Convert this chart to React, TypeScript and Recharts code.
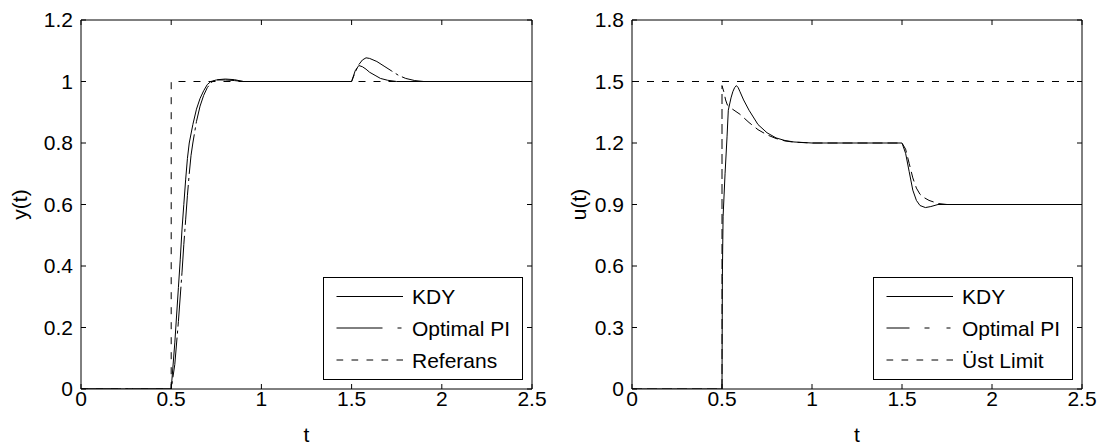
import React from "react";
import { Line, LineChart, ReferenceLine, XAxis, YAxis } from "recharts";

const FONT = '"Liberation Sans", Arial, Helvetica, sans-serif';
const FONT_SIZE = 21;

// shared time axis
const timeTicks = [0, 0.5, 1, 1.5, 2, 2.5];
const outputTicks = [0, 0.2, 0.4, 0.6, 0.8, 1, 1.2];
const controlTicks = [0, 0.3, 0.6, 0.9, 1.2, 1.5, 1.8];

// y(t) – reference step
const refT = [0, 0.5, 0.5, 2.5];
const refY = [0, 0, 1, 1];

// y(t) – KDY
const yKdyT = [0, 0.5, 0.52, 0.54, 0.55, 0.56, 0.57, 0.58, 0.59, 0.6, 0.62, 0.64, 0.66, 0.68, 0.7, 0.72, 0.75, 0.8, 0.85, 0.9, 1.5, 1.52, 1.54, 1.56, 1.58, 1.6, 1.63, 1.66, 1.7, 1.75, 2.5];
const yKdyV = [0, 0, 0.15, 0.33, 0.42, 0.52, 0.6, 0.68, 0.75, 0.8, 0.86, 0.91, 0.945, 0.97, 0.99, 1.0, 1.005, 1.005, 1.003, 1.0, 1.0, 1.035, 1.052, 1.048, 1.04, 1.03, 1.02, 1.01, 1.004, 1.0, 1.0];

// y(t) – Optimal PI
const yPiT = [0, 0.5, 0.52, 0.54, 0.56, 0.57, 0.58, 0.59, 0.6, 0.61, 0.62, 0.64, 0.66, 0.68, 0.7, 0.72, 0.74, 0.8, 0.85, 0.9, 1.5, 1.52, 1.54, 1.56, 1.58, 1.6, 1.64, 1.68, 1.72, 1.76, 1.8, 1.85, 1.9, 2.5];
const yPiV = [0, 0, 0.08, 0.22, 0.38, 0.47, 0.55, 0.63, 0.7, 0.76, 0.8, 0.87, 0.92, 0.955, 0.98, 0.995, 1.005, 1.008, 1.006, 1.0, 1.0, 1.03, 1.055, 1.07, 1.077, 1.075, 1.065, 1.05, 1.035, 1.02, 1.01, 1.003, 1.0, 1.0];

// u(t) – KDY
const uKdyT = [0, 0.5, 0.502, 0.506, 0.517, 0.528, 0.535, 0.55, 0.56, 0.57, 0.58, 0.59, 0.6, 0.62, 0.65, 0.7, 0.75, 0.8, 0.85, 0.9, 1.0, 1.5, 1.52, 1.54, 1.56, 1.58, 1.6, 1.63, 1.66, 1.7, 2.5];
const uKdyV = [0, 0, 0.55, 0.84, 1.05, 1.23, 1.36, 1.42, 1.45, 1.47, 1.48, 1.47, 1.45, 1.41, 1.36, 1.29, 1.25, 1.225, 1.212, 1.205, 1.2, 1.2, 1.15, 1.06, 0.97, 0.92, 0.895, 0.885, 0.89, 0.9, 0.9];

// u(t) – Optimal PI
const uPiT = [0, 0.5, 0.5, 0.51, 0.52, 0.53, 0.55, 0.6, 0.65, 0.7, 0.75, 0.8, 0.85, 0.9, 1.0, 1.5, 1.52, 1.54, 1.56, 1.58, 1.6, 1.62, 1.65, 1.7, 1.75, 2.5];
const uPiV = [0, 0, 1.48, 1.45, 1.41, 1.385, 1.37, 1.34, 1.3, 1.265, 1.24, 1.222, 1.21, 1.204, 1.2, 1.2, 1.17, 1.1, 1.03, 0.98, 0.95, 0.935, 0.92, 0.905, 0.9, 0.9];

// u(t) – upper limit
const limitT = [0, 2.5];
const limitU = [1.5, 1.5];

const zip = (ts: number[], vs: number[]) => ts.map((t, i) => ({ t, v: vs[i] }));

const PLOT_TOP = 20;
const PLOT_BOTTOM = 389;
const TICK_LEN = 5;

function TimeTick(props: any) {
  const { x, payload } = props;
  return (
    <g>
      <line x1={x} x2={x} y1={PLOT_BOTTOM} y2={PLOT_BOTTOM - TICK_LEN} stroke="#000" />
      <line x1={x} x2={x} y1={PLOT_TOP} y2={PLOT_TOP + TICK_LEN} stroke="#000" />
      <text x={x} y={PLOT_BOTTOM + 17} textAnchor="middle" fontSize={FONT_SIZE} fontFamily={FONT} fill="#000">
        {payload.value}
      </text>
    </g>
  );
}

function ValueTick(props: any) {
  const { y, payload, left, right } = props;
  return (
    <g>
      <line x1={left} x2={left + TICK_LEN} y1={y} y2={y} stroke="#000" />
      <line x1={right - TICK_LEN} x2={right} y1={y} y2={y} stroke="#000" />
      <text x={left - 8} y={y} dy="0.35em" textAnchor="end" fontSize={FONT_SIZE} fontFamily={FONT} fill="#000">
        {payload.value}
      </text>
    </g>
  );
}

// axis title at a fixed spot; own prop names so the axis can't overwrite them
function AxisTitle({ posX, posY, text, vertical }: { posX: number; posY: number; text: string; vertical?: boolean }) {
  return (
    <text
      x={posX}
      y={posY}
      textAnchor="middle"
      fontSize={FONT_SIZE}
      fontFamily={FONT}
      fill="#000"
      transform={vertical ? `rotate(-90 ${posX} ${posY})` : undefined}
    >
      {text}
    </text>
  );
}

interface SeriesDef {
  name: string;
  data: { t: number; v: number }[];
  dash?: string;
}

interface PanelProps {
  width: number;
  axisWidth: number;
  marginRight: number;
  yMax: number;
  yTicks: number[];
  yTitle: string;
  yTitleX: number;
  series: SeriesDef[];
}

function Panel({ width, axisWidth, marginRight, yMax, yTicks, yTitle, yTitleX, series }: PanelProps) {
  const plotRight = width - marginRight;
  const centerX = (axisWidth + plotRight) / 2;
  return (
    <LineChart width={width} height={447} margin={{ top: PLOT_TOP, right: marginRight, bottom: 0, left: 0 }}>
      <XAxis
        type="number"
        dataKey="t"
        domain={[0, 2.5]}
        ticks={timeTicks}
        interval={0}
        height={447 - PLOT_BOTTOM}
        allowDataOverflow
        tickLine={false}
        axisLine={{ stroke: "#000" }}
        tick={<TimeTick />}
        label={<AxisTitle posX={centerX} posY={442} text="t" />}
      />
      <YAxis
        type="number"
        domain={[0, yMax]}
        ticks={yTicks}
        interval={0}
        width={axisWidth}
        allowDataOverflow
        tickLine={false}
        axisLine={{ stroke: "#000" }}
        tick={<ValueTick left={axisWidth} right={plotRight} />}
        label={<AxisTitle posX={yTitleX} posY={(PLOT_TOP + PLOT_BOTTOM) / 2} text={yTitle} vertical />}
      />
      <ReferenceLine y={yMax} stroke="#000" />
      <ReferenceLine x={2.5} stroke="#000" />
      {series.map((s) => (
        <Line
          key={s.name}
          name={s.name}
          data={s.data}
          dataKey="v"
          type="linear"
          stroke="#000"
          strokeWidth={1}
          strokeDasharray={s.dash}
          dot={false}
          activeDot={false}
          isAnimationActive={false}
        />
      ))}
    </LineChart>
  );
}

interface LegendRow {
  label: string;
  dash?: string;
}

function LegendBox({ left, rows }: { left: number; rows: LegendRow[] }) {
  const rowY = [19.5, 51, 83];
  return (
    <svg width={200} height={103} style={{ position: "absolute", left, top: 277 }}>
      <rect x={0.5} y={0.5} width={199} height={102} fill="#fff" stroke="#000" />
      {rows.map((r, i) => (
        <g key={r.label}>
          <line x1={13.5} x2={80} y1={rowY[i]} y2={rowY[i]} stroke="#000" strokeDasharray={r.dash} />
          <text x={89} y={rowY[i]} dy="0.36em" fontSize={FONT_SIZE} fontFamily={FONT} fill="#000">
            {r.label}
          </text>
        </g>
      ))}
    </svg>
  );
}

export default function App() {
  const outputSeries: SeriesDef[] = [
    { name: "Referans", data: zip(refT, refY), dash: "7 8" },
    { name: "Optimal PI", data: zip(yPiT, yPiV), dash: "40 4 3 4" },
    { name: "KDY", data: zip(yKdyT, yKdyV) },
  ];
  const controlSeries: SeriesDef[] = [
    { name: "Üst Limit", data: zip(limitT, limitU), dash: "7 8" },
    { name: "Optimal PI", data: zip(uPiT, uPiV), dash: "10 5" },
    { name: "KDY", data: zip(uKdyT, uKdyV) },
  ];

  return (
    <div style={{ position: "absolute", left: 0, top: 0, width: 1101, height: 447, background: "#fff" }}>
      <div style={{ position: "absolute", left: 0, top: 0 }}>
        <Panel
          width={550}
          axisWidth={81}
          marginRight={18}
          yMax={1.2}
          yTicks={outputTicks}
          yTitle="y(t)"
          yTitleX={26.7}
          series={outputSeries}
        />
      </div>
      <div style={{ position: "absolute", left: 550, top: 0 }}>
        <Panel
          width={551}
          axisWidth={82}
          marginRight={19}
          yMax={1.8}
          yTicks={controlTicks}
          yTitle="u(t)"
          yTitleX={36.3}
          series={controlSeries}
        />
      </div>
      <LegendBox
        left={323}
        rows={[{ label: "KDY" }, { label: "Optimal PI", dash: "46 15 4 100" }, { label: "Referans", dash: "6.7 8.3" }]}
      />
      <LegendBox
        left={873}
        rows={[{ label: "KDY" }, { label: "Optimal PI", dash: "23 15 5 17 4 100" }, { label: "Üst Limit", dash: "6.7 8.3" }]}
      />
    </div>
  );
}
